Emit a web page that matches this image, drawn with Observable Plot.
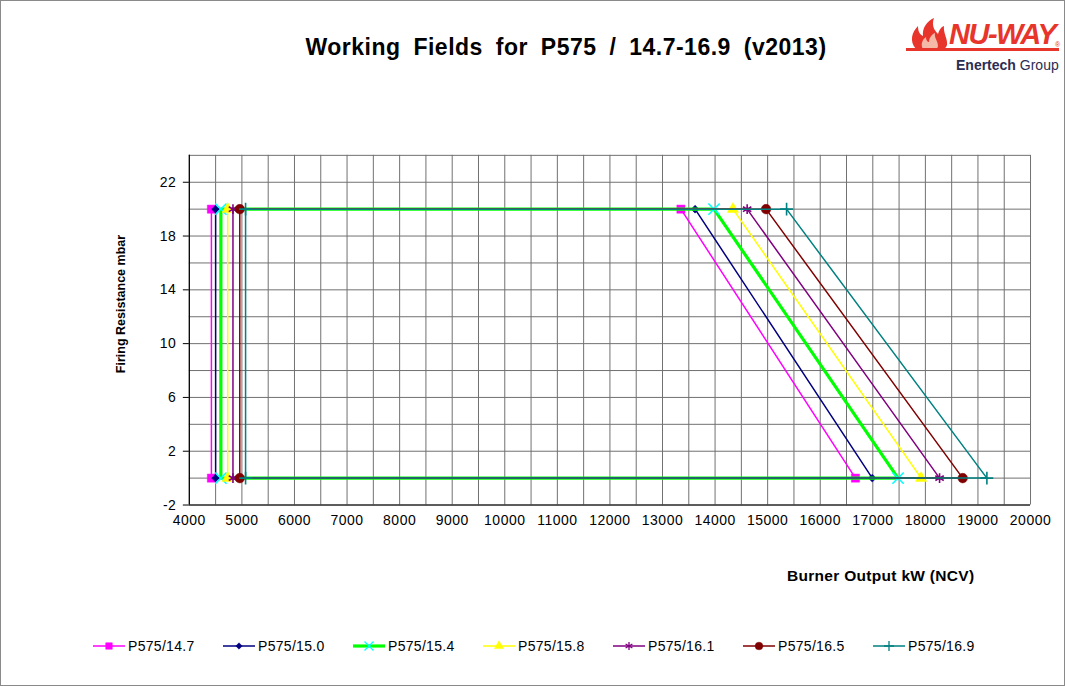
<!DOCTYPE html>
<html>
<head>
<meta charset="utf-8">
<script src="https://cdn.jsdelivr.net/npm/d3@7"></script>
<script src="https://cdn.jsdelivr.net/npm/@observablehq/plot@0.6"></script>
<style>
  html, body { margin: 0; padding: 0; background: #fff; }
  #wrap { position: relative; width: 1063px; height: 684px; border: 1px solid #8a8a8a; overflow: hidden; font-family: "Liberation Sans", Arial, sans-serif; }
  #chart { position: absolute; left: -1px; top: -1px; }
  .abs { position: absolute; white-space: nowrap; }
  #title { left: 0; width: 1130px; top: 33px; text-align: center; font-size: 23px; font-weight: bold; word-spacing: 6px; letter-spacing: 0.5px; color: #000; }
  #ylab { left: 120px; top: 303px; transform: translate(-50%, -50%) rotate(-90deg); font-size: 12.5px; font-weight: bold; }
  #xlab { left: 786px; top: 566px; font-size: 15.5px; font-weight: bold; letter-spacing: 0.3px; }
  #legend { left: 0; top: 636px; width: 1063px; height: 20px; }
  .item { position: absolute; top: 0; height: 18px; font-size: 14px; letter-spacing: 0.3px; line-height: 18px; }
  .item svg { position: absolute; left: 0; top: 3px; }
  .item span { position: absolute; left: 35px; top: 0; }
  #logo { left: 903px; top: 16px; width: 160px; height: 60px; }
  #chart svg text { letter-spacing: 0.5px; }
</style>
</head>
<body>
<div id="wrap">
  <div id="chart"></div>
  <div id="title" class="abs">Working Fields for P575 / 14.7-16.9 (v2013)</div>
  <div id="ylab" class="abs">Firing Resistance mbar</div>
  <div id="xlab" class="abs">Burner Output kW (NCV)</div>
  <div id="legend" class="abs"></div>
  <div id="logo" class="abs">
    <svg width="160" height="60" style="position:absolute;left:0;top:0">
      <path d="M12 32 C5 24 8 15 14 9 C14 16 17 18 19 19 C18 11 23 4 30 1 C27 9 31 14 34 17 C35 13 37 10 40 9 C39 16 44 22 43 28 C42 31 40 32 38 32 Z" fill="#e8352c"/>
      <path d="M19 32 C16 27 19 22 22 20 C22 24 24 25 25 25 C25 21 28 17 31 16 C30 21 34 24 34 29 L33 32 Z" fill="#f5b9a8"/>
      <rect x="2" y="31" width="153" height="3" fill="#e8352c"/>
      <text x="151" y="30" font-size="7" fill="#e8352c">®</text>
    </svg>
    <div class="abs" style="left:45px;top:1px;font-size:29px;font-weight:bold;font-style:italic;color:#e8352c;letter-spacing:-1.5px;font-family:'Liberation Sans',Arial,sans-serif;">NU-WAY</div>
    <div class="abs" style="left:52px;top:40px;font-size:14px;color:#2b2d52;"><b>Enertech</b> Group</div>
  </div>
</div>
<script>
// ---- data ----
const seriesNames = ["P575/14.7", "P575/15.0", "P575/15.4", "P575/15.8", "P575/16.1", "P575/16.5", "P575/16.9"];
const minOutput = [4420, 4500, 4600, 4730, 4830, 4960, 5070];          // left vertical edge (kW)
const maxOutputAtTop = [13350, 13620, 13980, 14340, 14610, 14970, 15360]; // at 20 mbar
const maxOutputAtZero = [16670, 16990, 17480, 17920, 18270, 18710, 19170]; // at 0 mbar
const topResistance = [20, 20, 20, 20, 20, 20, 20];
const bottomResistance = [0, 0, 0, 0, 0, 0, 0];
const xTicks = [4000, 5000, 6000, 7000, 8000, 9000, 10000, 11000, 12000, 13000, 14000, 15000, 16000, 17000, 18000, 19000, 20000];
const yTicks = [-2, 2, 6, 10, 14, 18, 22];

// ---- styles ----
const lineColors = ["#ff00ff", "#000080", "#00ff00", "#ffff00", "#800080", "#800000", "#008080"];
const markerColors = ["#ff00ff", "#000080", "#00ffff", "#ffff00", "#800080", "#800000", "#008080"];
const symbols = ["square", "diamond2", "times", "triangle", "asterisk", "circle", "plus"];
const filled = [true, true, false, true, false, true, false];
const markerR = [4.6, 3.6, 5.2, 4.2, 4.6, 4.8, 4.2];
const lineWidths = [1.5, 1.5, 3.2, 1.5, 1.5, 1.5, 1.5];

const xDomain = [4000, 20000];
const yDomain = [-2, 24];

const marks = [
  Plot.ruleX(d3.range(xDomain[0], xDomain[1] + 1, 500), {stroke: "#707070", strokeWidth: 1}),
  Plot.ruleY(d3.range(yDomain[0], yDomain[1] + 1, 2), {stroke: "#707070", strokeWidth: 1}),
];

seriesNames.forEach((name, i) => {
  const pts = [
    {x: minOutput[i], y: bottomResistance[i]},
    {x: minOutput[i], y: topResistance[i]},
    {x: maxOutputAtTop[i], y: topResistance[i]},
    {x: maxOutputAtZero[i], y: bottomResistance[i]},
    {x: minOutput[i], y: bottomResistance[i]}
  ];
  marks.push(Plot.line(pts, {x: "x", y: "y", stroke: lineColors[i], strokeWidth: lineWidths[i], curve: "linear"}));
  marks.push(Plot.dot(pts.slice(0, 4), {
    x: "x", y: "y", symbol: symbols[i], r: markerR[i],
    fill: filled[i] ? markerColors[i] : "none",
    stroke: markerColors[i], strokeWidth: filled[i] ? 0.5 : 1.6
  }));
});

marks.push(Plot.ruleX([xDomain[0]], {stroke: "#000", strokeWidth: 1.2}));
marks.push(Plot.ruleY([yDomain[0]], {stroke: "#000", strokeWidth: 1.2}));
marks.push(Plot.axisX({ticks: xTicks, tickSize: 0, tickPadding: 10, tickFormat: d => String(d), label: null}));
marks.push(Plot.axisY({ticks: yTicks, tickSize: 6, tickPadding: 7, tickFormat: d => String(d), label: null}));

const chart = Plot.plot({
  width: 1065,
  height: 560,
  marginLeft: 189,
  marginRight: 34,
  marginTop: 155,
  marginBottom: 55,
  x: {domain: xDomain},
  y: {domain: yDomain},
  style: {fontFamily: "'Liberation Sans', Arial, sans-serif", fontSize: "14px", color: "#000", background: "transparent"},
  marks
});
document.getElementById("chart").appendChild(chart);

// ---- legend ----
const legend = document.getElementById("legend");
const symMap = {square: d3.symbolSquare, diamond2: d3.symbolDiamond2, times: d3.symbolTimes, triangle: d3.symbolTriangle, asterisk: d3.symbolAsterisk, circle: d3.symbolCircle, plus: d3.symbolPlus};
seriesNames.forEach((name, i) => {
  const item = document.createElement("div");
  item.className = "item";
  item.style.left = (92 + i * 130) + "px";
  const svg = d3.create("svg").attr("width", 33).attr("height", 12);
  svg.append("line").attr("x1", 0).attr("x2", 32).attr("y1", 6).attr("y2", 6)
    .attr("stroke", lineColors[i]).attr("stroke-width", lineWidths[i]);
  const r = markerR[i] * 0.8;
  svg.append("path").attr("transform", "translate(16,6)")
    .attr("d", d3.symbol(symMap[symbols[i]], Math.PI * r * r)())
    .attr("fill", filled[i] ? markerColors[i] : "none")
    .attr("stroke", markerColors[i]).attr("stroke-width", filled[i] ? 0.5 : 1.3);
  item.appendChild(svg.node());
  const span = document.createElement("span");
  span.textContent = name;
  item.appendChild(span);
  legend.appendChild(item);
});
</script>
</body>
</html>
